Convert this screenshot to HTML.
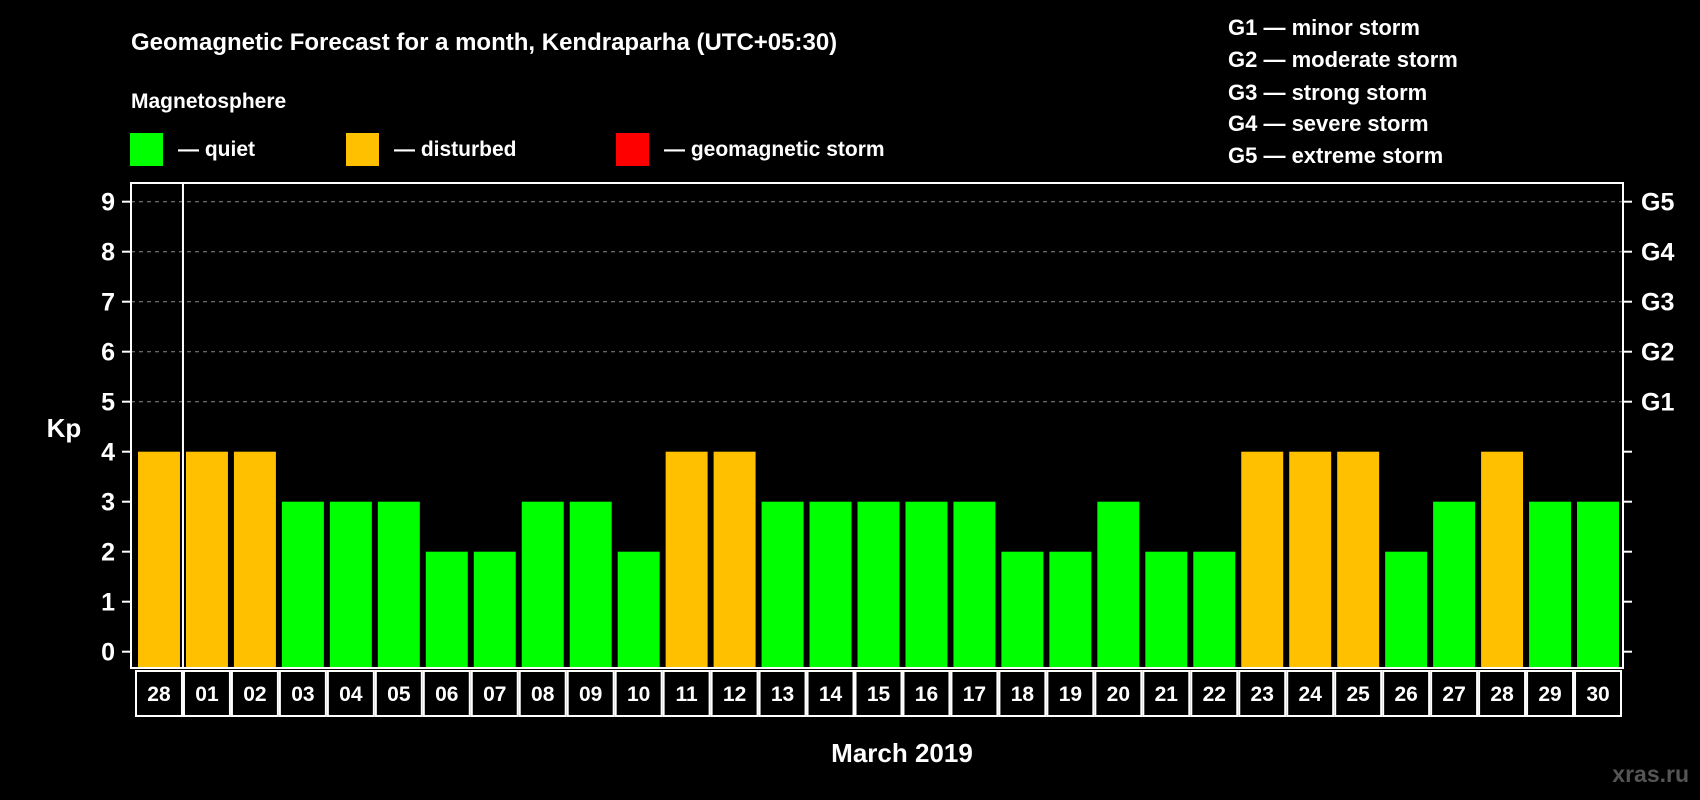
<!DOCTYPE html>
<html><head><meta charset="utf-8"><style>
html,body{margin:0;padding:0;background:#000;}
svg{display:block;font-family:"Liberation Sans",sans-serif;font-weight:bold;}
</style></head><body>
<svg id="chart" width="1700" height="800" viewBox="0 0 1700 800">
<rect x="0" y="0" width="1700" height="800" fill="#000"/>
<text x="131" y="50" font-size="24" fill="#fff">Geomagnetic Forecast for a month, Kendraparha (UTC+05:30)</text>
<text x="131" y="108" font-size="21" fill="#fff">Magnetosphere</text>
<rect x="130" y="133" width="33" height="33" fill="#00ff00"/>
<text x="178" y="156" font-size="21" fill="#fff">— quiet</text>
<rect x="346" y="133" width="33" height="33" fill="#ffc000"/>
<text x="394" y="156" font-size="21" fill="#fff">— disturbed</text>
<rect x="616" y="133" width="33" height="33" fill="#ff0000"/>
<text x="664" y="156" font-size="21" fill="#fff">— geomagnetic storm</text>
<g font-size="22" fill="#fff">
<text x="1228" y="35">G1 — minor storm</text>
<text x="1228" y="67">G2 — moderate storm</text>
<text x="1228" y="100">G3 — strong storm</text>
<text x="1228" y="131">G4 — severe storm</text>
<text x="1228" y="163">G5 — extreme storm</text>
</g>
<g id="plot"></g>
<text x="64" y="437" font-size="26" fill="#fff" text-anchor="middle">Kp</text>
<text x="902" y="762" font-size="26" fill="#fff" text-anchor="middle">March 2019</text>
<text x="1689" y="782" font-size="23" fill="#555" text-anchor="end">xras.ru</text>
</svg>
<script>
const dayLabels = ["28","01","02","03","04","05","06","07","08","09","10","11","12","13","14","15","16","17","18","19","20","21","22","23","24","25","26","27","28","29","30"];
const kpValues = [4,4,4,3,3,3,2,2,3,3,2,4,4,3,3,3,3,3,2,2,3,2,2,4,4,4,2,3,4,3,3];
const yTicks = [0,1,2,3,4,5,6,7,8,9];
const stormLabels = ["G1","G2","G3","G4","G5"];
const stormLevels = [5,6,7,8,9];

const NS = "http://www.w3.org/2000/svg";
const plot = document.getElementById("plot");
const L = 131, R = 1623, T = 183, B = 668;
const barStart = 138, step = (R - 4 - barStart + 6) / dayLabels.length, barW = step - 6;
function y(v){ return 651.7 - 50 * v; }
function x(i){ return barStart + i * step; }
function mk(tag, attrs){ const e = document.createElementNS(NS, tag); for (const k in attrs) e.setAttribute(k, attrs[k]); plot.appendChild(e); return e; }

yTicks.forEach(function(v){
  if (v >= 5) {
    const g = mk("line", {x1:L, x2:R, y1:y(v), y2:y(v), stroke:"#888", "stroke-width":1, "stroke-dasharray":"4,4"});
    
    
  }
  const t = mk("line", {x1:L-9, x2:L, y1:y(v), y2:y(v), stroke:"#fff", "stroke-width":2});
  
  
  const t2 = mk("line", {x1:R, x2:R+9, y1:y(v), y2:y(v), stroke:"#fff", "stroke-width":2});
  
  
  const lb = mk("text", {x:115, y:y(v)+9, "font-size":25, fill:"#fff", "text-anchor":"end"});
  lb.textContent = v;
  
  
});
stormLabels.forEach(function(s, i){
  const lb = mk("text", {x:1641, y:y(stormLevels[i])+9, "font-size":25, fill:"#fff"});
  lb.textContent = s;
  
  
});
kpValues.forEach(function(v, i){
  const col = v >= 5 ? "#ff0000" : (v >= 4 ? "#ffc000" : "#00ff00");
  const b = mk("rect", {x:x(i), y:y(v), width:barW, height:B - y(v), fill:col});
  
  
  const c = mk("rect", {x:x(i)-2, y:671, width:barW+4, height:45, fill:"none", stroke:"#fff", "stroke-width":2});
  
  
  const t = mk("text", {x:x(i)+barW/2, y:701, "font-size":21, fill:"#fff", "text-anchor":"middle"});
  t.textContent = dayLabels[i];
  
  
});
const fr = mk("rect", {x:L, y:T, width:R-L, height:B-T, fill:"none", stroke:"#fff", "stroke-width":2});


const dv = mk("line", {x1:x(1)-3, x2:x(1)-3, y1:T, y2:B, stroke:"#fff", "stroke-width":2});


</script>
</body></html>
